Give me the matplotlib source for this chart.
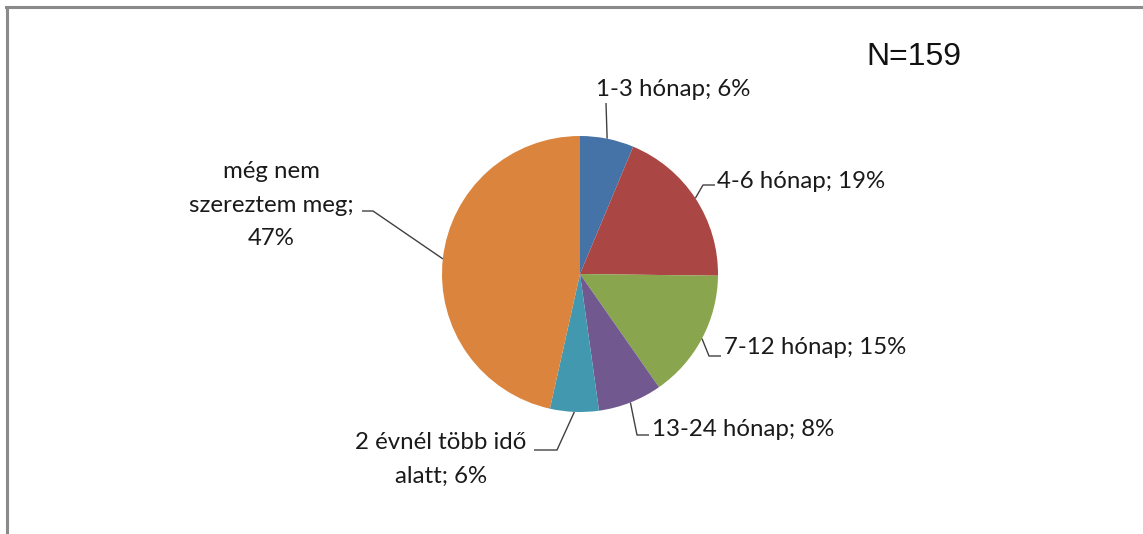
import numpy as np
import matplotlib
matplotlib.use("Agg")
import matplotlib.pyplot as plt
from matplotlib.lines import Line2D

# ---- data ----
categories = ["1-3 hónap", "4-6 hónap", "7-12 hónap", "13-24 hónap",
              "2 évnél több idő alatt", "még nem szereztem meg"]
values = [6.3, 18.9, 15.1, 7.5, 5.7, 46.5]
label_texts = ["1-3 hónap; 6%", "4-6 hónap; 19%", "7-12 hónap; 15%",
               "13-24 hónap; 8%", "2 évnél több idő\nalatt; 6%",
               "még nem\nszereztem meg;\n47%"]
n_text = "N=159"
colors = ["#4572A7", "#AA4643", "#89A54E", "#71588F", "#4198AF", "#DB843D"]

W, H = 1143, 534
fig = plt.figure(figsize=(W / 100, H / 100), dpi=100)
ax = fig.add_axes([0, 0, 1, 1])

cx, cy, r = 580, H - 274, 138
wedges, _ = ax.pie(values, colors=colors, startangle=90, counterclock=False,
                   center=(cx, cy), radius=r, frame=True,
                   wedgeprops=dict(linewidth=0))
ax.set_xlim(0, W)
ax.set_ylim(0, H)
ax.set_aspect("equal")
ax.axis("off")

font = "Lato"
fs = 17.3
tcol = "#1a1a1a"
lcol = "#404040"

# label layout: (text x, text y [image coords], ha, path points after anchor [image coords])
layout = [
    (673, 90, "center", [(606, 103)]),
    (717, 181, "left", [(703, 185), (715, 185)]),
    (724, 348, "left", [(709, 356), (721, 356)]),
    (652, 430, "left", [(637, 435), (649, 435)]),
    (441, 459, "center", [(557, 450), (534, 450)]),
    (271, 205, "center", [(373, 211), (362, 211)]),
]

total = sum(values)
cum = 0
for w, val, txt, (tx, ty, ha, pts) in zip(wedges, values, label_texts, layout):
    mid = (cum + val / 2) / total * 2 * np.pi
    cum += val
    ax_ = cx + r * np.sin(mid)
    ay_ = cy + r * np.cos(mid)
    xs = [ax_] + [p[0] for p in pts]
    ys = [ay_] + [H - p[1] for p in pts]
    ax.plot(xs, ys, color=lcol, lw=1.0, solid_capstyle="butt")
    ax.text(tx, H - ty, txt, ha=ha, va="center", fontsize=fs, family=font,
            color=tcol, multialignment="center", linespacing=1.75)

ax.text(866, H - 57, n_text, ha="left", va="center", fontsize=23,
        family="Liberation Sans", color="#111111")

# chart border (left and top)
fig.add_artist(Line2D([7 / W, 7 / W], [0, 1 - 7 / H], transform=fig.transFigure,
                      color="#8a8a8a", lw=2.2))
fig.add_artist(Line2D([6 / W, 1], [1 - 7 / H, 1 - 7 / H], transform=fig.transFigure,
                      color="#8a8a8a", lw=2.2))

fig.savefig("out.png", dpi=100, facecolor="white")
